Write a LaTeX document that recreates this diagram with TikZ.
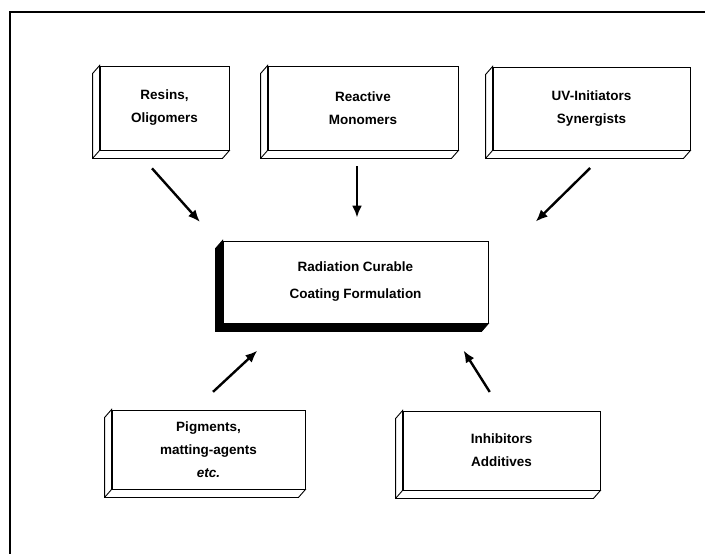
\documentclass[tikz,border=0pt]{standalone}
\usepackage{fontspec}
\setmainfont{Liberation Sans}
\usetikzlibrary{arrows.meta,positioning}
% side and bottom faces of a slab, drawn to the lower left of the front face
\newcommand{\slab}[2][white]{%
  \filldraw[fill=#1,line width=0.9pt] (#2.north west) -- ++(-7,8)
    -- ([shift={(-7,8)}]#2.south west) -- ([shift={(-7,8)}]#2.south east)
    -- (#2.south east) -- (#2.south west) -- cycle;
  \draw[line width=0.9pt] (#2.south west) -- ++(-7,8);
}

\begin{document}
\begin{tikzpicture}[x=1pt,y=-1pt,
  box/.style={draw=black,line width=0.9pt,fill=white,inner sep=0pt,align=center,
    font=\bfseries\fontsize{13.5}{23}\selectfont},
  feed/.style={line width=2.4pt,-{Latex[length=12pt,width=10pt]}}]
\useasboundingbox (0,0) rectangle (705,554);
% \draw[help lines,step=50] (0,0) grid (705,554);
\draw[line width=1.2pt] (705,12) -- (10,12) -- (10,554);
%
\node (resins) [box,minimum width=129,minimum height=84] at (164.5,108) {Resins,\\Oligomers};
\node (monomers) [box,minimum width=190,minimum height=84] at (363,108) {Reactive\\Monomers};
\node (initiators) [box,minimum width=197,minimum height=83] at (591.5,108.5) {UV-Initiators\\Synergists};
\node (mix) [box,minimum width=265,minimum height=82,
  font=\bfseries\fontsize{13.5}{27}\selectfont] at (355.5,282) {Radiation Curable\\Coating Formulation};
\node (pigments) [box,minimum width=193,minimum height=79] at (208.5,449.5) {Pigments,\\matting-agents\\\textit{etc.}};
\node (inhibitors) [box,minimum width=197,minimum height=79] at (501.5,450.5) {Inhibitors\\Additives};
%
\slab{resins}
\slab{monomers}
\slab{initiators}
\slab[black]{mix}
\slab{pigments}
\slab{inhibitors}
%
\path[feed] ([xshift=-28.5]resins.south) edge[shorten <=24,shorten >=25] ([xshift=-6]mix.north west);
\path[feed] ([xshift=-6]monomers.south) edge[shorten <=16,shorten >=23] ([xshift=1.5]mix.north);
\path[feed] ([xshift=16.5]initiators.south) edge[shorten <=25,shorten >=27] ([xshift=28]mix.north east);
\path[feed] ([xshift=-14.5]pigments.north) edge[shorten <=26,shorten >=40] ([xshift=64]mix.south west);
\path[feed] (inhibitors.north) edge[shorten <=22,shorten >=32] ([xshift=-42]mix.south east);
\end{tikzpicture}
\end{document}
